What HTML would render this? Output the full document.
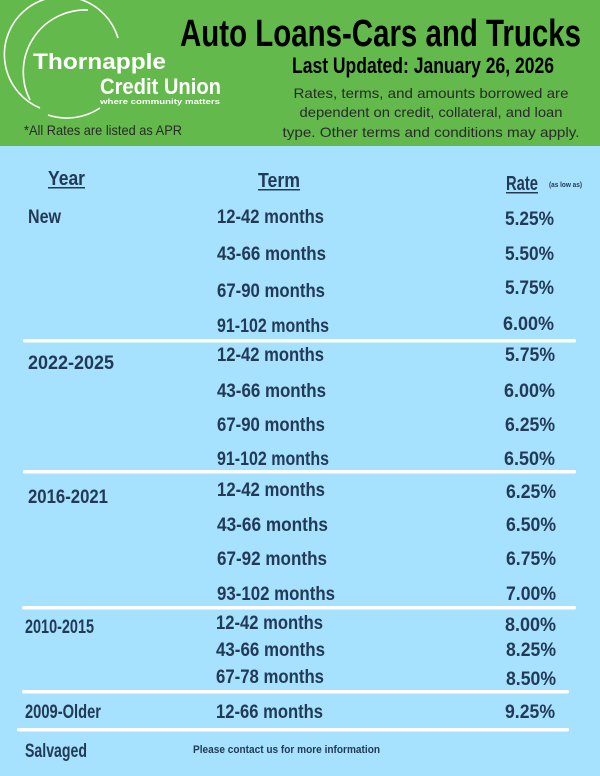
<!DOCTYPE html>
<html><head><meta charset="utf-8"><style>
html,body{margin:0;padding:0;width:600px;height:776px;overflow:hidden;background:#a6e1fd}
svg{display:block}
.c{font-family:"Liberation Sans Narrow","Liberation Sans",sans-serif;font-weight:bold;fill:#233a57}
.h{font-family:"Liberation Sans Narrow","Liberation Sans",sans-serif;font-weight:bold;fill:#000}
.w{font-family:"Liberation Sans",sans-serif;font-weight:bold;fill:#fff}
.n{font-family:"Liberation Sans",sans-serif;fill:#2a2a2a}
</style></head><body>
<svg width="600" height="776" viewBox="0 0 600 776" xmlns="http://www.w3.org/2000/svg">
<rect x="0" y="0" width="600" height="146" fill="#63b94b"/>
<rect x="0" y="146" width="600" height="630" fill="#a6e1fd"/>
<!-- logo arcs -->
<path d="M40,108 A58,58 0 1 1 118,38" fill="none" stroke="#fff" stroke-width="1.6"/>
<path d="M30,100 A62,62 0 0 1 88,10" fill="none" stroke="#fff" stroke-width="1.6"/>
<path d="M48,115 A60,60 0 0 0 100,108" fill="none" stroke="#fff" stroke-width="1.6"/>
<text class="w" x="33" y="69" font-size="22" textLength="133" lengthAdjust="spacingAndGlyphs">Thornapple</text>
<text class="w" x="100" y="94" font-size="22" textLength="121" lengthAdjust="spacingAndGlyphs">Credit Union</text>
<text class="w" x="100" y="104" font-size="7.5" textLength="120" lengthAdjust="spacingAndGlyphs">where community matters</text>
<text class="n" x="24" y="135" font-size="14" textLength="158" lengthAdjust="spacingAndGlyphs">*All Rates are listed as APR</text>
<text class="h" x="180" y="46" font-size="38" textLength="401" lengthAdjust="spacingAndGlyphs">Auto Loans-Cars and Trucks</text>
<text class="h" x="292" y="73" font-size="22" textLength="262" lengthAdjust="spacingAndGlyphs">Last Updated: January 26, 2026</text>
<text class="n" x="431" y="98" font-size="14" text-anchor="middle" textLength="275" lengthAdjust="spacingAndGlyphs">Rates, terms, and amounts borrowed are</text>
<text class="n" x="431" y="117" font-size="14" text-anchor="middle" textLength="263" lengthAdjust="spacingAndGlyphs">dependent on credit, collateral, and loan</text>
<text class="n" x="431" y="137" font-size="14" text-anchor="middle" textLength="297" lengthAdjust="spacingAndGlyphs">type. Other terms and conditions may apply.</text>
<!-- headers -->
<text class="c" x="48" y="185" font-size="20" textLength="37" lengthAdjust="spacingAndGlyphs">Year</text>
<rect x="48" y="187" width="37" height="1.5" fill="#233a57"/>
<text class="c" x="258" y="187" font-size="20" textLength="42" lengthAdjust="spacingAndGlyphs">Term</text>
<rect x="258" y="189" width="42" height="1.5" fill="#233a57"/>
<text class="c" x="506" y="190" font-size="20" textLength="32" lengthAdjust="spacingAndGlyphs">Rate</text>
<rect x="506" y="192" width="32" height="1.5" fill="#233a57"/>
<text class="c" x="549" y="187" font-size="7" textLength="33" lengthAdjust="spacingAndGlyphs">(as low as)</text>
<g class="c" font-size="19">
<text x="28" y="223" textLength="33" lengthAdjust="spacingAndGlyphs">New</text>
<text x="217" y="223" textLength="107" lengthAdjust="spacingAndGlyphs">12-42 months</text>
<text x="554" y="225" text-anchor="end" textLength="49" lengthAdjust="spacingAndGlyphs">5.25%</text>
<text x="217" y="260" textLength="109" lengthAdjust="spacingAndGlyphs">43-66 months</text>
<text x="554" y="260" text-anchor="end" textLength="49" lengthAdjust="spacingAndGlyphs">5.50%</text>
<text x="217" y="297" textLength="108" lengthAdjust="spacingAndGlyphs">67-90 months</text>
<text x="554" y="294" text-anchor="end" textLength="49" lengthAdjust="spacingAndGlyphs">5.75%</text>
<text x="217" y="332" textLength="112" lengthAdjust="spacingAndGlyphs">91-102 months</text>
<text x="554" y="330" text-anchor="end" textLength="51" lengthAdjust="spacingAndGlyphs">6.00%</text>

<text x="28" y="369" textLength="86" lengthAdjust="spacingAndGlyphs">2022-2025</text>
<text x="217" y="361" textLength="107" lengthAdjust="spacingAndGlyphs">12-42 months</text>
<text x="555" y="361" text-anchor="end" textLength="50" lengthAdjust="spacingAndGlyphs">5.75%</text>
<text x="217" y="397" textLength="109" lengthAdjust="spacingAndGlyphs">43-66 months</text>
<text x="555" y="397" text-anchor="end" textLength="51" lengthAdjust="spacingAndGlyphs">6.00%</text>
<text x="217" y="431" textLength="108" lengthAdjust="spacingAndGlyphs">67-90 months</text>
<text x="555" y="431" text-anchor="end" textLength="50" lengthAdjust="spacingAndGlyphs">6.25%</text>
<text x="217" y="465" textLength="112" lengthAdjust="spacingAndGlyphs">91-102 months</text>
<text x="555" y="465" text-anchor="end" textLength="51" lengthAdjust="spacingAndGlyphs">6.50%</text>

<text x="28" y="503" textLength="80" lengthAdjust="spacingAndGlyphs">2016-2021</text>
<text x="217" y="496" textLength="108" lengthAdjust="spacingAndGlyphs">12-42 months</text>
<text x="556" y="498" text-anchor="end" textLength="50" lengthAdjust="spacingAndGlyphs">6.25%</text>
<text x="217" y="531" textLength="111" lengthAdjust="spacingAndGlyphs">43-66 months</text>
<text x="556" y="531" text-anchor="end" textLength="50" lengthAdjust="spacingAndGlyphs">6.50%</text>
<text x="217" y="565" textLength="110" lengthAdjust="spacingAndGlyphs">67-92 months</text>
<text x="556" y="565" text-anchor="end" textLength="50" lengthAdjust="spacingAndGlyphs">6.75%</text>
<text x="217" y="600" textLength="118" lengthAdjust="spacingAndGlyphs">93-102 months</text>
<text x="556" y="600" text-anchor="end" textLength="50" lengthAdjust="spacingAndGlyphs">7.00%</text>

<text x="25" y="633" textLength="69" lengthAdjust="spacingAndGlyphs">2010-2015</text>
<text x="216" y="629" textLength="107" lengthAdjust="spacingAndGlyphs">12-42 months</text>
<text x="556" y="631" text-anchor="end" textLength="51" lengthAdjust="spacingAndGlyphs">8.00%</text>
<text x="216" y="656" textLength="109" lengthAdjust="spacingAndGlyphs">43-66 months</text>
<text x="556" y="656" text-anchor="end" textLength="50" lengthAdjust="spacingAndGlyphs">8.25%</text>
<text x="216" y="683" textLength="108" lengthAdjust="spacingAndGlyphs">67-78 months</text>
<text x="556" y="685" text-anchor="end" textLength="50" lengthAdjust="spacingAndGlyphs">8.50%</text>

<text x="25" y="718" textLength="76" lengthAdjust="spacingAndGlyphs">2009-Older</text>
<text x="216" y="718" textLength="107" lengthAdjust="spacingAndGlyphs">12-66 months</text>
<text x="555" y="718" text-anchor="end" textLength="50" lengthAdjust="spacingAndGlyphs">9.25%</text>

<text x="25" y="757" textLength="62" lengthAdjust="spacingAndGlyphs">Salvaged</text>
</g>
<text class="c" x="193" y="753" font-size="11" textLength="187" lengthAdjust="spacingAndGlyphs">Please contact us for more information</text>
<!-- separators -->
<rect x="23" y="339" width="553" height="3.5" rx="1.5" fill="#fff"/>
<rect x="23" y="470" width="553" height="3.5" rx="1.5" fill="#fff"/>
<rect x="22" y="606" width="554" height="3.5" rx="1.5" fill="#fff"/>
<rect x="22" y="690" width="547" height="3.5" rx="1.5" fill="#fff"/>
<rect x="17" y="728" width="552" height="3.5" rx="1.5" fill="#fff"/>
</svg>
</body></html>
